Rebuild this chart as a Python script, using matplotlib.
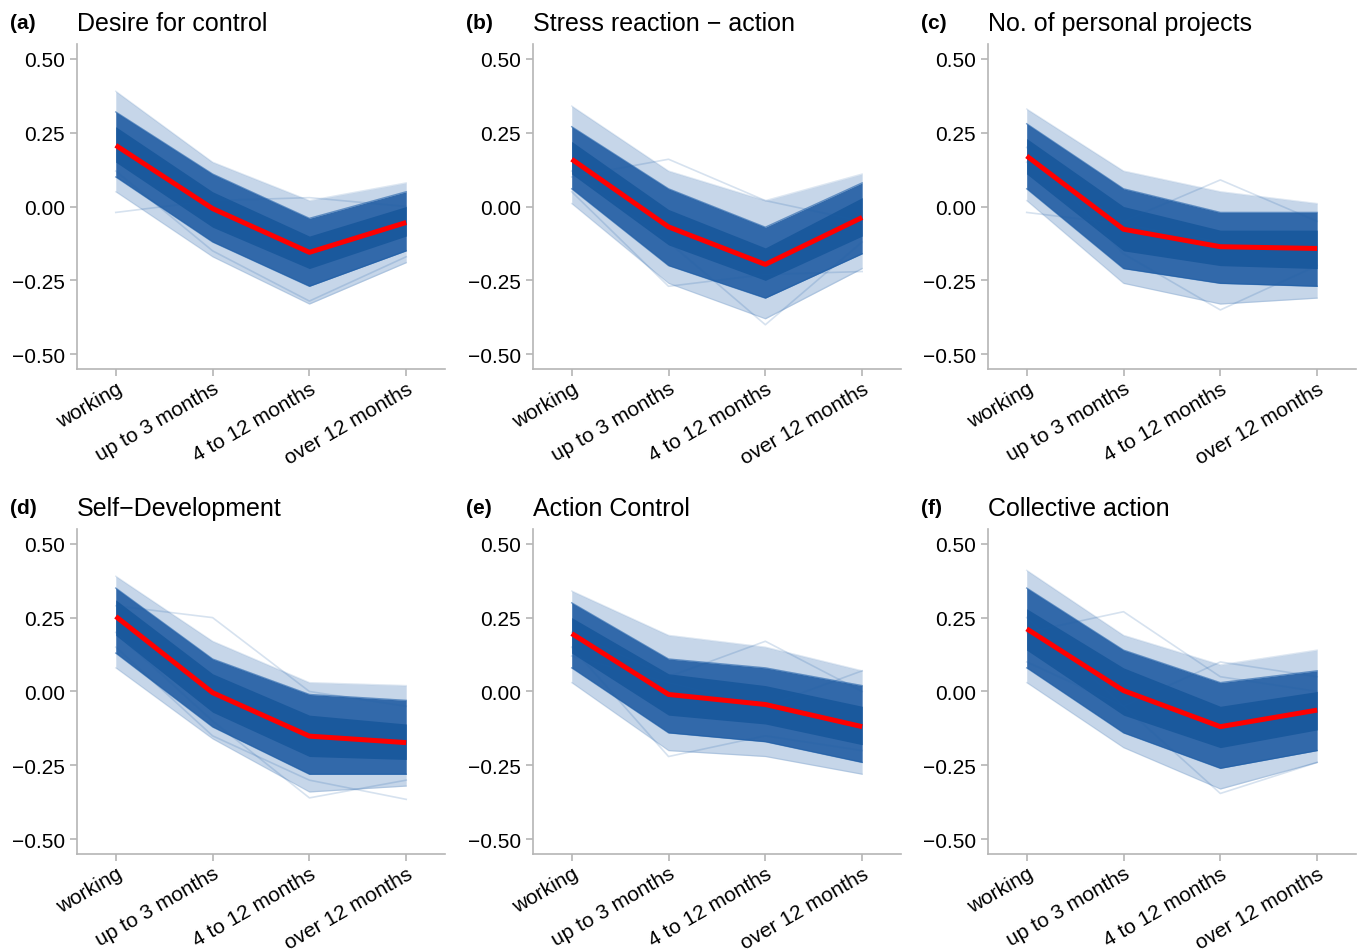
import matplotlib

matplotlib.use("Agg")
import matplotlib.pyplot as plt

plt.rcParams["font.family"] = ["Liberation Sans", "DejaVu Sans"]

categories = ["working", "up to 3 months", "4 to 12 months", "over 12 months"]

titles = [
    "Desire for control",
    "Stress reaction \u2212 action",
    "No. of personal projects",
    "Self\u2212Development",
    "Action Control",
    "Collective action",
]
letters = ["(a)", "(b)", "(c)", "(d)", "(e)", "(f)"]

# red line: point estimate per group
means = [
    [0.207, -0.007, -0.155, -0.054],
    [0.160, -0.069, -0.196, -0.037],
    [0.171, -0.077, -0.136, -0.142],
    [0.254, -0.004, -0.151, -0.173],
    [0.196, -0.010, -0.044, -0.119],
    [0.212, 0.003, -0.119, -0.063],
]

# spread of the resampled lines
lo = [
    [0.05, -0.17, -0.33, -0.19],
    [0.01, -0.26, -0.38, -0.21],
    [0.02, -0.26, -0.33, -0.31],
    [0.08, -0.16, -0.34, -0.32],
    [0.03, -0.20, -0.22, -0.28],
    [0.03, -0.19, -0.33, -0.24],
]
hi = [
    [0.39, 0.15, 0.02, 0.08],
    [0.34, 0.12, 0.02, 0.11],
    [0.33, 0.12, 0.05, 0.01],
    [0.39, 0.17, 0.03, 0.02],
    [0.34, 0.19, 0.15, 0.07],
    [0.41, 0.19, 0.09, 0.14],
]
p05 = [
    [0.10, -0.12, -0.27, -0.15],
    [0.06, -0.20, -0.31, -0.16],
    [0.06, -0.21, -0.26, -0.27],
    [0.13, -0.12, -0.28, -0.28],
    [0.08, -0.14, -0.17, -0.24],
    [0.08, -0.14, -0.26, -0.20],
]
p95 = [
    [0.32, 0.11, -0.04, 0.05],
    [0.27, 0.06, -0.07, 0.08],
    [0.28, 0.06, -0.02, -0.02],
    [0.35, 0.11, -0.01, -0.03],
    [0.30, 0.11, 0.08, 0.02],
    [0.35, 0.14, 0.03, 0.07],
]
p20 = [
    [0.15, -0.07, -0.21, -0.10],
    [0.11, -0.13, -0.25, -0.10],
    [0.11, -0.15, -0.20, -0.21],
    [0.19, -0.07, -0.22, -0.23],
    [0.13, -0.08, -0.11, -0.18],
    [0.14, -0.08, -0.19, -0.13],
]
p80 = [
    [0.27, 0.05, -0.10, 0.00],
    [0.22, -0.01, -0.14, 0.03],
    [0.23, 0.00, -0.08, -0.08],
    [0.31, 0.06, -0.08, -0.11],
    [0.25, 0.06, 0.02, -0.05],
    [0.28, 0.08, -0.05, 0.00],
]

# stray resampled lines that stand out from the bundle
outliers = [
    [[-0.02, 0.02, 0.03, 0.00], [0.12, -0.15, -0.32, -0.17]],
    [[0.10, 0.16, 0.02, -0.05], [0.12, -0.12, -0.40, -0.12], [0.05, -0.27, -0.23, -0.22]],
    [[-0.02, -0.06, -0.12, -0.15], [0.15, -0.05, 0.09, -0.05], [0.20, -0.16, -0.35, -0.20]],
    [[0.29, 0.25, 0.00, -0.05], [0.20, -0.10, -0.36, -0.30], [0.15, -0.15, -0.30, -0.365]],
    [[0.15, -0.22, -0.15, -0.20], [0.20, 0.05, 0.17, 0.00], [0.12, 0.03, -0.05, 0.07]],
    [[0.20, 0.27, 0.05, 0.00], [0.10, -0.05, 0.10, 0.05], [0.25, -0.05, -0.345, -0.24]],
]

yticks = [0.50, 0.25, 0.00, -0.25, -0.50]

LINE_BLUE = "#1f5fa8"
CORE_BLUE = "#1a599d"
MID_BLUE = "#3269aa"
OUTER_BLUE = "#c6d6e9"
GREY = "#b5b5b5"

fig = plt.figure(figsize=(13.59, 9.53), dpi=100)

lefts = [0.0567, 0.3922, 0.7270]
width = 0.2707
bottoms = [0.6117, 0.1028]
height = 0.3411

x = list(range(len(categories)))

for i in range(6):
    row, col = divmod(i, 3)
    ax = fig.add_axes([lefts[col], bottoms[row], width, height])

    ax.fill_between(x, lo[i], hi[i], color=OUTER_BLUE, lw=0)
    ax.plot(x, lo[i], color=LINE_BLUE, alpha=0.15, lw=1)
    ax.plot(x, hi[i], color=LINE_BLUE, alpha=0.15, lw=1)
    ax.fill_between(x, p05[i], p95[i], color=MID_BLUE, lw=0)
    ax.plot(x, p05[i], color=LINE_BLUE, alpha=0.6, lw=1)
    ax.plot(x, p95[i], color=LINE_BLUE, alpha=0.6, lw=1)
    ax.fill_between(x, p20[i], p80[i], color=CORE_BLUE, lw=0)
    for line in outliers[i]:
        ax.plot(x, line, color=LINE_BLUE, alpha=0.18, lw=1.2)

    ax.plot(x, means[i], color="#ff0000", lw=3.6, solid_capstyle="butt", zorder=5)

    ax.set_xlim(-0.4, 3.4)
    ax.set_ylim(-0.55, 0.55)
    ax.set_yticks(yticks)
    ax.set_yticklabels([f"{v:.2f}".replace("-", "\u2212") for v in yticks])
    ax.set_xticks(x)
    ax.set_xticklabels(categories, rotation=30, ha="right", rotation_mode="anchor")

    for side in ["top", "right"]:
        ax.spines[side].set_visible(False)
    for side in ["left", "bottom"]:
        ax.spines[side].set_color(GREY)
        ax.spines[side].set_linewidth(1.2)
    ax.tick_params(axis="both", colors=GREY, labelcolor="black", labelsize=15,
                   length=5, width=1.2)
    ax.tick_params(axis="x", pad=2)

    ax.set_title(titles[i], loc="left", fontsize=18, pad=10)
    pos = ax.get_position()
    fig.text(lefts[col] - 0.049, pos.y1 + 0.017, letters[i], fontsize=15,
             fontweight="bold", va="baseline")

fig.savefig("out.png", dpi=100)
